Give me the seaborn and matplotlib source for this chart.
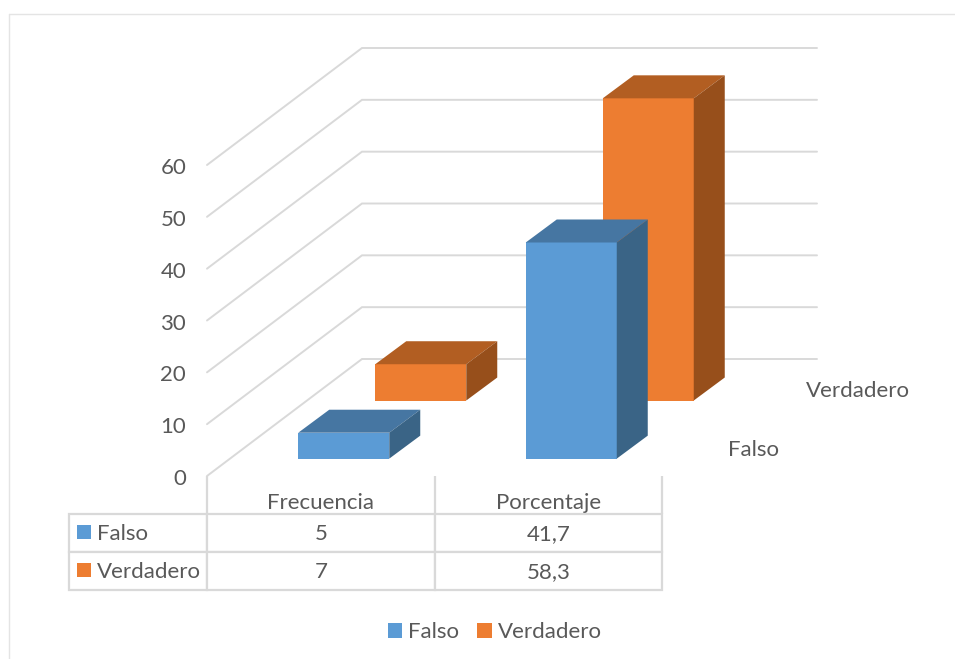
import matplotlib
matplotlib.use("Agg")
import matplotlib.pyplot as plt
import seaborn as sns
from matplotlib.lines import Line2D
from matplotlib.patches import Patch, Polygon, Rectangle
from matplotlib.transforms import Affine2D

categories = ["Frecuencia", "Porcentaje"]
series_names = ["Falso", "Verdadero"]
falso = [5, 41.7]
verdadero = [7, 58.3]
falso_labels = ["5", "41,7"]
verdadero_labels = ["7", "58,3"]
y_ticks = [0, 10, 20, 30, 40, 50, 60]

sns.set_theme(style="white")
plt.rcParams["font.family"] = ["Lato", "DejaVu Sans"]

W, H = 955, 659
TEXT = "#595959"
GRID = "#D9D9D9"
FS = 16
fig = plt.figure(figsize=(W / 100, H / 100), dpi=100, facecolor="white")


def px_axes(left, top, right, bottom):
    return fig.add_axes([left / W, 1 - bottom / H, (right - left) / W, (bottom - top) / H])


AX_L, AX_R, AX_B, AX_T = 207, 662, 476, 165
PX_X = (AX_R - AX_L) / 2  # pixels per category
PX_Y = (AX_B - AX_T) / 60  # pixels per unit

# Chart frame
for xs, ys in [((9, 9), (14, H)), ((9, W), (14, 14))]:
    fig.add_artist(Line2D([x / W for x in xs], [1 - y / H for y in ys], color="#E4E4E4", lw=1.0))

# Back wall / side wall
base = px_axes(AX_L, AX_T, AX_R, AX_B)
base.set_xlim(-0.5, 1.5)
base.set_ylim(0, 60)
base.patch.set_visible(False)
sns.despine(ax=base, left=True, bottom=True, top=True, right=True)
wall_dx, wall_dy = 155 / PX_X, 117 / PX_Y
wall_end = (817 - AX_L) / PX_X
for v in y_ticks:
    base.plot([-0.5, -0.5 + wall_dx, -0.5 + wall_end], [v, v + wall_dy, v + wall_dy],
              color=GRID, lw=1.4, clip_on=False, solid_joinstyle="miter")
base.set_yticks(y_ticks)
base.set_xticks([0, 1], categories)
base.tick_params(axis="y", length=0, pad=15, labelsize=FS, labelcolor=TEXT)
base.tick_params(axis="x", length=0, pad=12, labelsize=FS, labelcolor=TEXT)
for lab in base.get_yticklabels():
    lab.set_va("center")
    lab.set_transform(lab.get_transform() + Affine2D().translate(0, -3))
base.vlines([-0.5, 0.5, 1.5], -38 / PX_Y, 0, color=GRID, lw=1.6, clip_on=False)


def bar_row(values, depth_px, front, top, side):
    ax = px_axes(AX_L + depth_px, AX_T - depth_px * 117 / 155, AX_R + depth_px,
                 AX_B - depth_px * 117 / 155)
    sns.barplot(x=categories, y=values, color=front, saturation=1, width=0.4, linewidth=0, ax=ax)
    ax.set_xlim(-0.5, 1.5)
    ax.set_ylim(0, 60)
    ax.axis("off")
    dx, dy = 31 / PX_X, 23 / PX_Y
    for bar in list(ax.patches):
        x0, x1, h = bar.get_x(), bar.get_x() + bar.get_width(), bar.get_height()
        ax.add_patch(Polygon([(x0, h), (x1, h), (x1 + dx, h + dy), (x0 + dx, h + dy)],
                             closed=True, fc=top, ec="none", clip_on=False))
        ax.add_patch(Polygon([(x1, 0), (x1, h), (x1 + dx, h + dy), (x1 + dx, dy)],
                             closed=True, fc=side, ec="none", clip_on=False))
    return ax


bar_row(verdadero, 100, "#ED7D31", "#B25E22", "#974F1B")
bar_row(falso, 23, "#5B9BD5", "#4676A2", "#3A6486")

# Depth axis labels
fig.text(753 / W, 1 - 450 / H, series_names[0], ha="center", va="center", color=TEXT, fontsize=FS)
fig.text(858 / W, 1 - 391 / H, series_names[1], ha="center", va="center", color=TEXT, fontsize=FS)

# Data table
tax = px_axes(69, 514, 662, 590)
tax.axis("off")
tax.set_xlim(69, 662)
tax.set_ylim(590, 514)
rows = [[series_names[0]] + falso_labels, [series_names[1]] + verdadero_labels]
table = tax.table(cellText=rows, colWidths=[138 / 593, 227.5 / 593, 227.5 / 593],
                  cellLoc="center", bbox=[0, 0, 1, 1])
table.auto_set_font_size(False)
table.set_fontsize(FS)
for (r, c), cell in table.get_celld().items():
    cell.set_edgecolor(GRID)
    cell.set_linewidth(1.6)
    cell.get_text().set_color(TEXT)
    cell.get_text().set_transform(Affine2D().translate(0, -1.5))
    if c == 0:
        cell.get_text().set_ha("left")
        cell.PAD = 28 / 138
for yc, col in zip((532, 570), ("#5B9BD5", "#ED7D31")):
    tax.add_patch(Rectangle((77, yc - 7), 14, 14, fc=col, ec="none", zorder=5))

# Legend
handles = [Patch(fc="#5B9BD5", ec="none"), Patch(fc="#ED7D31", ec="none")]
fig.legend(handles, series_names, loc="center", bbox_to_anchor=(494.5 / W, 1 - 632 / H), ncol=2,
           frameon=False, fontsize=FS, labelcolor=TEXT, handlelength=0.65, handleheight=0.65,
           handletextpad=0.25, columnspacing=0.85, borderpad=0)

fig.savefig("out.png", dpi=100, facecolor="white")
